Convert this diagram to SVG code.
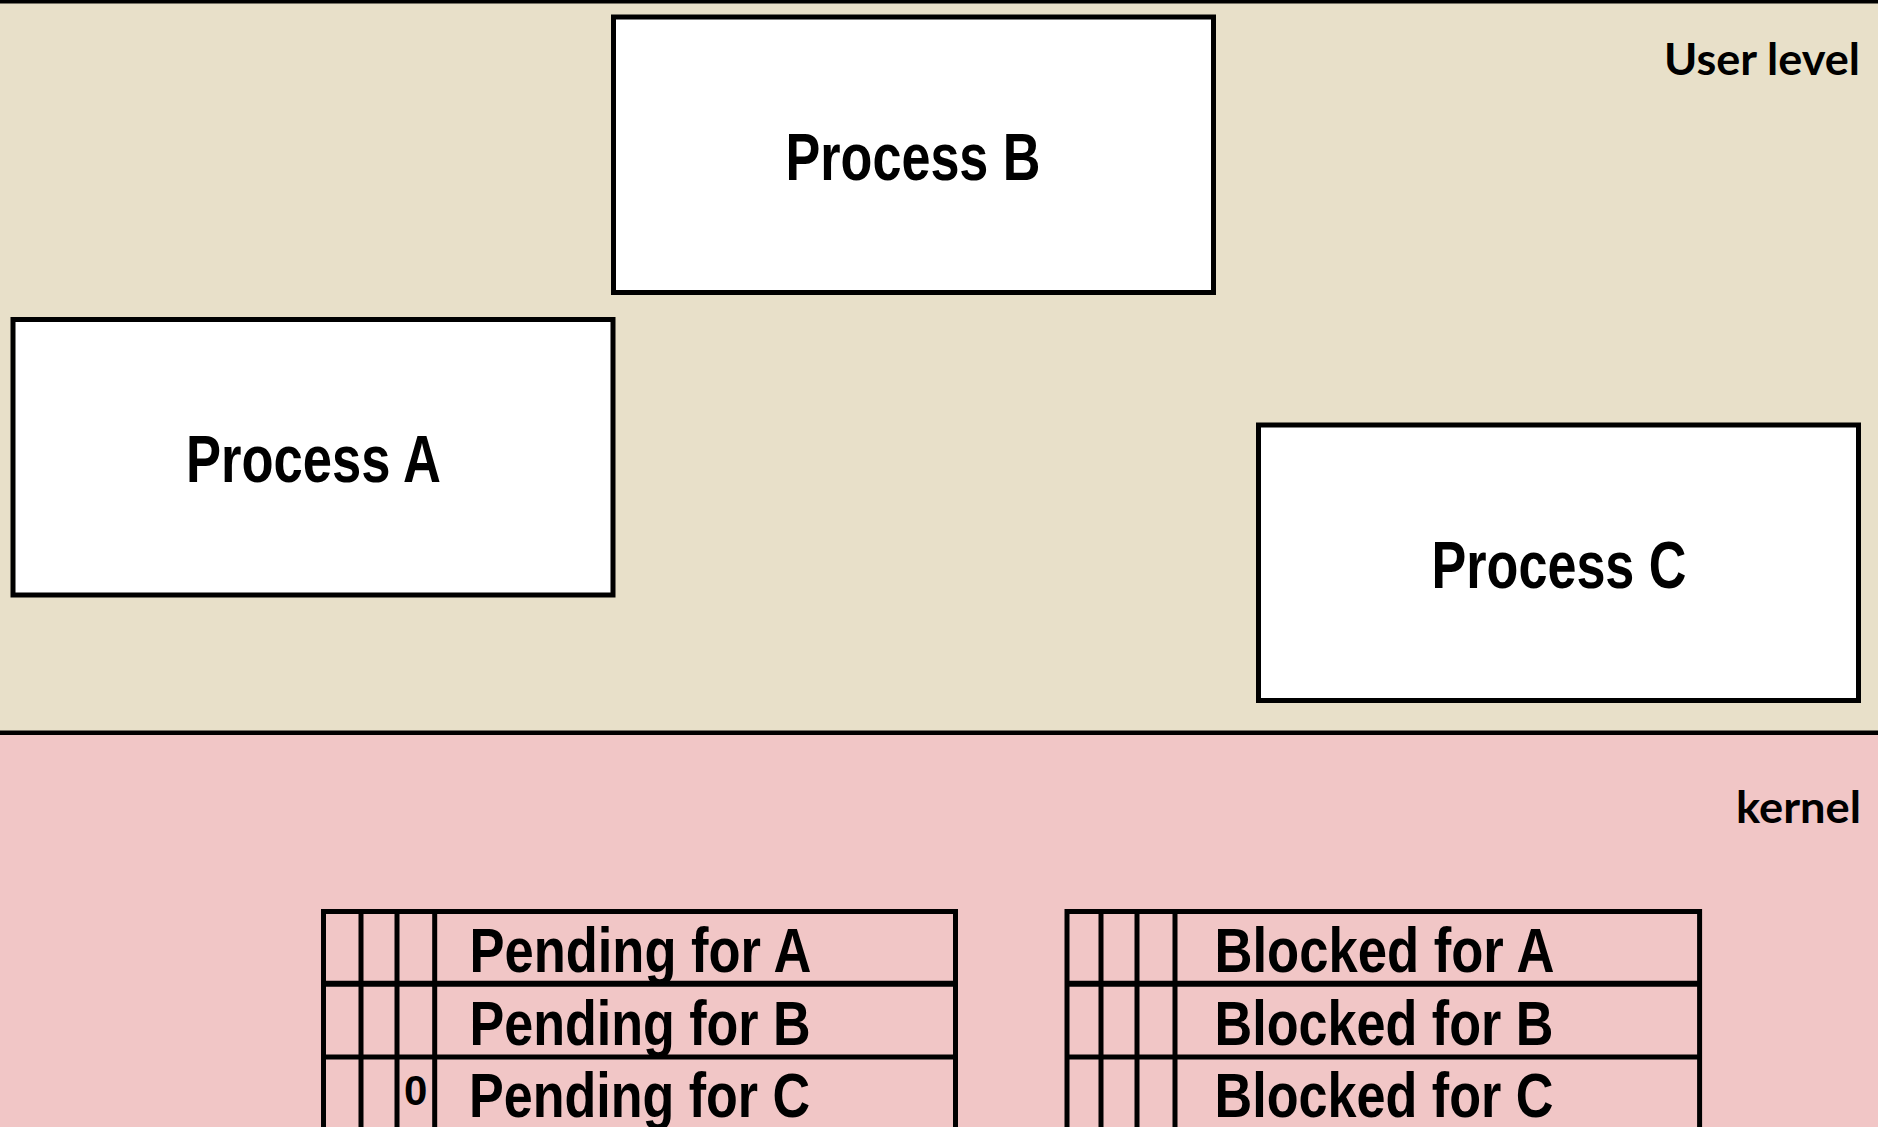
<svg xmlns="http://www.w3.org/2000/svg" width="1878" height="1127" viewBox="0 0 1878 1127">
  <style>
    .box { fill: #ffffff; stroke: #000000; stroke-width: 5; }
    .grid { stroke: #000000; stroke-width: 5; fill: none; stroke-linecap: square; }
    .plabel { font-family: "Liberation Sans Narrow", "Liberation Sans", Arial, sans-serif; font-weight: bold; font-size: 66px; fill: #000; }
    .tlabel { font-family: "Liberation Sans Narrow", "Liberation Sans", Arial, sans-serif; font-weight: bold; font-size: 63px; fill: #000; }
    .zone { font-family: Lato, "Open Sans", sans-serif; font-weight: bold; font-size: 44px; fill: #000; }
  </style>

  <g id="background">
    <rect x="0" y="0" width="1878" height="733" fill="#E8E0C9"/>
    <rect x="0" y="733" width="1878" height="394" fill="#F1C6C6"/>
    <rect x="0" y="0" width="1878" height="3.5" fill="#000"/>
    <line x1="0" y1="732.8" x2="1878" y2="732.8" stroke="#000" stroke-width="4.5"/>
    <text class="zone" x="1664" y="75" textLength="196" lengthAdjust="spacingAndGlyphs">User level</text>
    <text class="zone" x="1736" y="823.3" textLength="125" lengthAdjust="spacingAndGlyphs">kernel</text>
  </g>

  <g id="processB">
    <rect class="box" x="613.5" y="17" width="600" height="275.5"/>
    <text class="plabel" x="785.5" y="180" textLength="255" lengthAdjust="spacingAndGlyphs">Process B</text>
  </g>

  <g id="processA">
    <rect class="box" x="13" y="319.5" width="600" height="275.5"/>
    <text class="plabel" x="186" y="482" textLength="255" lengthAdjust="spacingAndGlyphs">Process A</text>
  </g>

  <g id="processC">
    <rect class="box" x="1258.5" y="425" width="600" height="275.5"/>
    <text class="plabel" x="1431.5" y="588" textLength="255" lengthAdjust="spacingAndGlyphs">Process C</text>
  </g>

  <g id="pendingTable">
    <path class="grid" d="M323.5 1135 V911.5 H955.5 V1135 M361 911.5 V1135 M397 911.5 V1135 M434.7 911.5 V1135 M323.5 1057 H955.5"/>
    <line x1="323.5" y1="983.7" x2="955.5" y2="983.7" stroke="#000" stroke-width="6"/>
    <text class="tlabel" x="469.5" y="971.7" textLength="342" lengthAdjust="spacingAndGlyphs">Pending for A</text>
    <text class="tlabel" x="469.5" y="1045" textLength="341" lengthAdjust="spacingAndGlyphs">Pending for B</text>
    <text class="tlabel" x="469" y="1116.7" textLength="341" lengthAdjust="spacingAndGlyphs">Pending for C</text>
    <text class="tlabel" x="415.8" y="1105" text-anchor="middle" style="font-size:42px">0</text>
  </g>

  <g id="blockedTable">
    <path class="grid" d="M1067 1135 V911.5 H1699.6 V1135 M1101 911.5 V1135 M1137 911.5 V1135 M1175 911.5 V1135 M1067 1057 H1699.6"/>
    <line x1="1067" y1="983.7" x2="1699.6" y2="983.7" stroke="#000" stroke-width="6"/>
    <text class="tlabel" x="1214.5" y="971.7" textLength="340" lengthAdjust="spacingAndGlyphs">Blocked for A</text>
    <text class="tlabel" x="1214.5" y="1045" textLength="339" lengthAdjust="spacingAndGlyphs">Blocked for B</text>
    <text class="tlabel" x="1214.5" y="1116.7" textLength="339" lengthAdjust="spacingAndGlyphs">Blocked for C</text>
  </g>

  <g id="connectors"/>
</svg>
